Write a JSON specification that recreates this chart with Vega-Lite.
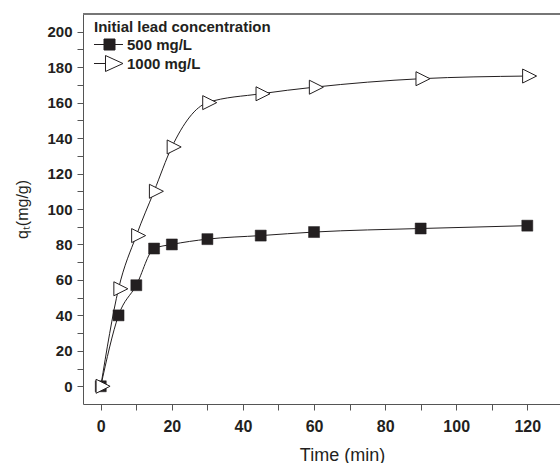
{
  "$schema": "https://vega.github.io/schema/vega-lite/v6.json",
  "width": 477,
  "height": 390,
  "autosize": {"type": "none"},
  "padding": {"left": 83, "top": 14, "right": 0, "bottom": 59},
  "background": "white",
  "config": {
    "view": {"stroke": null},
    "axisY": {"labelOverlap": false, "labelFlush": false, "labelBound": false}
  },
  "data": {
    "values": [
      {"time": 0, "q": 0, "series": "500 mg/L"},
      {"time": 5, "q": 40, "series": "500 mg/L"},
      {"time": 10, "q": 57, "series": "500 mg/L"},
      {"time": 15, "q": 77.7, "series": "500 mg/L"},
      {"time": 20, "q": 80, "series": "500 mg/L"},
      {"time": 30, "q": 83, "series": "500 mg/L"},
      {"time": 45, "q": 85, "series": "500 mg/L"},
      {"time": 60, "q": 87, "series": "500 mg/L"},
      {"time": 90, "q": 89, "series": "500 mg/L"},
      {"time": 120, "q": 90.6, "series": "500 mg/L"},
      {"time": 0, "q": 0, "series": "1000 mg/L"},
      {"time": 5, "q": 55, "series": "1000 mg/L"},
      {"time": 10, "q": 85, "series": "1000 mg/L"},
      {"time": 15, "q": 110, "series": "1000 mg/L"},
      {"time": 20, "q": 135, "series": "1000 mg/L"},
      {"time": 30, "q": 160, "series": "1000 mg/L"},
      {"time": 45, "q": 165, "series": "1000 mg/L"},
      {"time": 60, "q": 168.7, "series": "1000 mg/L"},
      {"time": 90, "q": 173.5, "series": "1000 mg/L"},
      {"time": 120, "q": 175, "series": "1000 mg/L"}
    ]
  },
  "encoding": {
    "x": {
      "field": "time", "type": "quantitative",
      "scale": {"domain": [-5, 129.2], "nice": false, "zero": false},
      "axis": {
        "values": [0, 10, 20, 30, 40, 50, 60, 70, 80, 90, 100, 110, 120],
        "labelExpr": "datum.value % 20 == 0 ? datum.label : ''",
        "labelOverlap": false,
        "labelFont": "Liberation Sans",
        "labelFontWeight": "bold",
        "labelFontSize": 16,
        "labelColor": "#231f20",
        "grid": false,
        "domainColor": "#555555",
        "tickColor": "#555555",
        "tickSize": 6,
        "labelPadding": 8,
        "title": "Time (min)",
        "titleFont": "Liberation Sans",
        "titleFontWeight": "normal",
        "titleColor": "#231f20",
        "titleFontSize": 18,
        "titlePadding": 12,
        "titleX": 259,
        "encode": {"ticks": {"update": {"y2": {"signal": "datum.value % 20 == 0 ? 6 : 3"}}}}
      }
    },
    "y": {
      "field": "q", "type": "quantitative",
      "scale": {"domain": [-10, 210], "nice": false, "zero": false},
      "axis": {
        "values": [0, 10, 20, 30, 40, 50, 60, 70, 80, 90, 100, 110, 120, 130, 140, 150, 160, 170, 180, 190, 200],
        "labelExpr": "datum.value % 20 == 0 ? datum.label : ''",
        "labelOverlap": false,
        "labelBound": false,
        "labelFlush": false,
        "labelFont": "Liberation Sans",
        "labelFontWeight": "bold",
        "labelFontSize": 15,
        "labelColor": "#231f20",
        "grid": false,
        "domainColor": "#555555",
        "tickColor": "#555555",
        "tickSize": 6,
        "labelPadding": 5,
        "title": "qₜ(mg/g)",
        "titleFont": "Liberation Sans",
        "titleFontWeight": "normal",
        "titleColor": "#231f20",
        "titleFontSize": 16,
        "titlePadding": 16,
        "encode": {"ticks": {"update": {"x2": {"signal": "datum.value % 20 == 0 ? -6 : -3"}}}}
      }
    }
  },
  "layer": [
    {
      "mark": {"type": "line", "interpolate": "monotone", "color": "#231f20", "strokeWidth": 1},
      "encoding": {"detail": {"field": "series"}}
    },
    {
      "transform": [{"filter": "datum.series === '500 mg/L'"}],
      "mark": {"type": "point", "shape": "square", "size": 121, "filled": true, "fill": "#231f20", "stroke": "#231f20", "strokeWidth": 0.5, "opacity": 1}
    },
    {
      "transform": [{"filter": "datum.series === '1000 mg/L'"}],
      "mark": {"type": "point", "shape": "M-0.67,-1L1.33,0L-0.67,1Z", "size": 196, "filled": true, "fill": "white", "stroke": "#231f20", "strokeWidth": 1, "opacity": 1}
    },
    {
      "mark": {"type": "point", "filled": true, "opacity": 0, "size": 121, "strokeWidth": 1},
      "encoding": {
        "shape": {
          "field": "series", "type": "nominal",
          "scale": {"domain": ["500 mg/L", "1000 mg/L"], "range": ["M-2.82,0L-1,0M1,0L2.45,0M-1,-1L1,-1L1,1L-1,1Z", "M-2.82,0L-0.73,0M-0.73,-1.45L2.45,0L-0.73,1.45Z"]},
          "title": "Initial lead concentration",
          "legend": {
            "orient": "none", "legendX": 11, "legendY": 6,
            "titleFont": "Liberation Sans", "labelFont": "Liberation Sans",
            "titleFontSize": 15, "titleFontWeight": "bold", "titleColor": "#231f20",
            "labelFontSize": 15, "labelFontWeight": "bold", "labelColor": "#231f20",
            "titlePadding": 2, "rowPadding": 0, "symbolSize": 121, "symbolOffset": 8, "labelOffset": 10,
            "symbolStrokeWidth": 1, "symbolOpacity": 1, "padding": 0
          }
        },
        "fill": {
          "field": "series", "type": "nominal",
          "scale": {"domain": ["500 mg/L", "1000 mg/L"], "range": ["#231f20", "white"]},
          "title": "Initial lead concentration"
        },
        "stroke": {
          "field": "series", "type": "nominal",
          "scale": {"domain": ["500 mg/L", "1000 mg/L"], "range": ["#231f20", "#231f20"]},
          "title": "Initial lead concentration"
        }
      }
    },
    {
      "mark": {"type": "rule", "color": "#777777", "strokeWidth": 1.2},
      "encoding": {"x": null, "y": {"datum": 210}}
    }
  ]
}
